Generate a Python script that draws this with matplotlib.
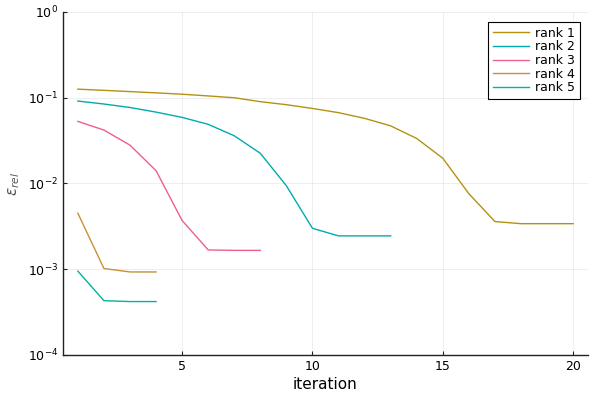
import matplotlib
matplotlib.use('Agg')
import matplotlib.pyplot as plt
import numpy as np

'''
    relative error per iteration, one line per rank
'''

rank1 = [0.126, 0.122, 0.118, 0.114, 0.110, 0.105, 0.100, 0.090, 0.083, 0.075,
         0.067, 0.0575, 0.047, 0.0335, 0.0197, 0.0076, 0.0036, 0.0034, 0.0034, 0.0034]
rank2 = [0.0915, 0.0845, 0.077, 0.068, 0.059, 0.049, 0.036, 0.0225, 0.0094, 0.0030,
         0.00245, 0.00245, 0.00245]
rank3 = [0.053, 0.042, 0.028, 0.0141, 0.0037, 0.00168, 0.00166, 0.00166]
rank4 = [0.0045, 0.00102, 0.00093, 0.00093]
rank5 = [0.00095, 0.00043, 0.00042, 0.00042]

series = [rank1, rank2, rank3, rank4, rank5]
labels = ['rank 1', 'rank 2', 'rank 3', 'rank 4', 'rank 5']
colors = ['#b39212', '#00abb0', '#ee5f8f', '#c98f36', '#00b3a2']


def main():
    fig = plt.figure(figsize=(6, 4), dpi=100)
    ax = fig.add_axes([0.105, 0.1125, 0.875, 0.8575])

    for vals, lab, col in zip(series, labels, colors):
        it = np.arange(1, len(vals) + 1)
        ax.plot(it, vals, color=col, lw=1.0, label=lab)

    ax.set_yscale('log')
    ax.set_ylim(1e-4, 1)
    ax.set_xlim(0.43, 20.57)
    ax.set_xticks([5, 10, 15, 20])
    ax.set_yticks([1e-4, 1e-3, 1e-2, 1e-1, 1])
    ax.minorticks_off()

    ax.grid(True, color='black', alpha=0.08, lw=0.6)
    ax.spines['top'].set_visible(False)
    ax.spines['right'].set_visible(False)
    for s in ['left', 'bottom']:
        ax.spines[s].set_color('#222222')
        ax.spines[s].set_linewidth(1.0)
    ax.tick_params(direction='in', length=3, labelsize=9, colors='#222222')
    ax.tick_params(axis='both', labelcolor='black')

    ax.set_xlabel('iteration', fontsize=11, labelpad=3)
    ax.set_ylabel(r'$\varepsilon_{rel}$', fontsize=11, color='#555555')

    leg = ax.legend(loc='upper right', fontsize=9, frameon=True, fancybox=False,
                    edgecolor='black', framealpha=1, handlelength=2.9,
                    borderpad=0.4, labelspacing=0.05, handletextpad=0.5,
                    bbox_to_anchor=(0.997, 0.99))
    leg.get_frame().set_linewidth(0.8)

    fig.savefig('out.png', dpi=100)


if __name__ == '__main__':
    main()
